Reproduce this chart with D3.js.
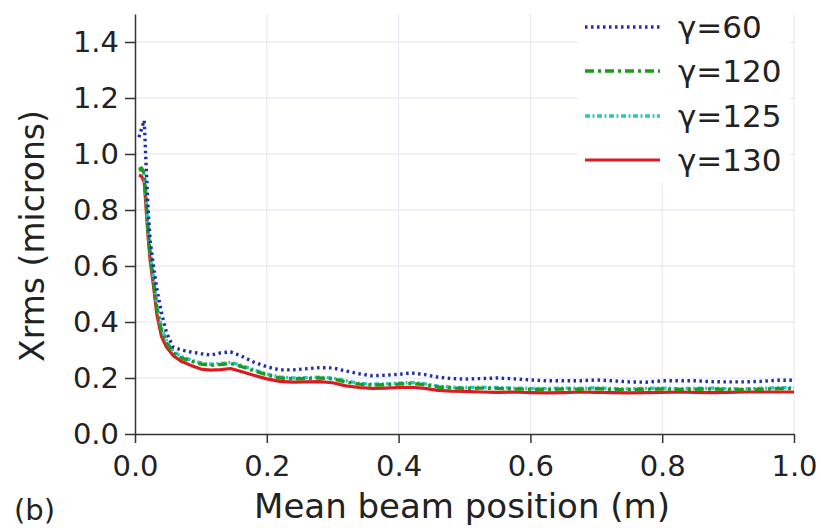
<!DOCTYPE html>
<html>
<head>
<meta charset="utf-8">
<script src="https://cdn.jsdelivr.net/npm/d3@7"></script>
<style>
  body { margin: 0; background: #fff; }
  svg text { font-family: "DejaVu Sans", sans-serif; fill: #222; }
  .grid line { stroke: #e4e4f4; stroke-width: 1; }
  .axis path, .axis line { stroke: #333; stroke-width: 1.5; }
  .axis text { font-size: 29px; fill: #222; font-family: "DejaVu Sans", sans-serif; }
</style>
</head>
<body>
<svg id="chart" width="821" height="528"></svg>
<script>
/* Xrms vs mean beam position, four gamma values */
const xs = [0.006, 0.01, 0.014, 0.017, 0.02, 0.023, 0.028, 0.033, 0.04, 0.048, 0.058, 0.07, 0.085, 0.1, 0.115, 0.13, 0.145, 0.16, 0.18, 0.2,
            0.22, 0.24, 0.26, 0.28, 0.3, 0.32, 0.34, 0.36, 0.38, 0.4, 0.42, 0.44, 0.46, 0.48, 0.5, 0.525, 0.55, 0.575, 0.6, 0.625,
            0.65, 0.675, 0.7, 0.725, 0.75, 0.775, 0.8, 0.825, 0.85, 0.875, 0.9, 0.925, 0.95, 0.975, 1.0];

const g60 = [1.06, 1.09, 1.12, 0.95, 0.8, 0.69, 0.6, 0.52, 0.435, 0.36, 0.31, 0.3, 0.293, 0.287, 0.282, 0.29, 0.293, 0.28, 0.257, 0.24,
             0.229, 0.229, 0.233, 0.237, 0.236, 0.225, 0.215, 0.208, 0.21, 0.213, 0.218, 0.212, 0.203, 0.198, 0.196, 0.198, 0.2, 0.197, 0.193, 0.19,
             0.19, 0.19, 0.193, 0.19, 0.186, 0.185, 0.19, 0.19, 0.19, 0.187, 0.186, 0.186, 0.188, 0.192, 0.192];
const g120 = [0.945, 0.95, 0.93, 0.83, 0.72, 0.64, 0.55, 0.45, 0.37, 0.325, 0.29, 0.272, 0.26, 0.25, 0.245, 0.248, 0.252, 0.242, 0.226, 0.211,
              0.2, 0.197, 0.198, 0.2, 0.197, 0.186, 0.178, 0.175, 0.176, 0.178, 0.181, 0.176, 0.168, 0.164, 0.163, 0.164, 0.163, 0.161, 0.16, 0.159,
              0.161, 0.16, 0.162, 0.159, 0.158, 0.16, 0.161, 0.159, 0.16, 0.161, 0.159, 0.158, 0.16, 0.162, 0.162];
const g125 = [0.94, 0.945, 0.925, 0.84, 0.73, 0.65, 0.56, 0.46, 0.38, 0.33, 0.295, 0.277, 0.264, 0.254, 0.249, 0.252, 0.256, 0.246, 0.23, 0.214,
              0.204, 0.2, 0.201, 0.203, 0.2, 0.19, 0.181, 0.178, 0.179, 0.181, 0.184, 0.179, 0.171, 0.167, 0.166, 0.167, 0.166, 0.164, 0.163, 0.162,
              0.164, 0.163, 0.165, 0.162, 0.161, 0.163, 0.164, 0.162, 0.163, 0.164, 0.162, 0.161, 0.163, 0.165, 0.165];
const g130 = [0.925, 0.92, 0.9, 0.8, 0.7, 0.62, 0.53, 0.43, 0.35, 0.31, 0.28, 0.26, 0.245, 0.232, 0.228, 0.23, 0.234, 0.224, 0.21, 0.197,
              0.188, 0.185, 0.186, 0.187, 0.183, 0.172, 0.166, 0.163, 0.164, 0.166, 0.167, 0.163, 0.156, 0.153, 0.152, 0.15, 0.149, 0.15, 0.148, 0.147,
              0.148, 0.15, 0.149, 0.148, 0.147, 0.148, 0.149, 0.15, 0.149, 0.148, 0.149, 0.15, 0.15, 0.15, 0.15];

const seriesNames = ['\u03b3=60', '\u03b3=120', '\u03b3=125', '\u03b3=130'];
const xTicks = [0, 0.2, 0.4, 0.6, 0.8, 1.0];
const yTicks = [0, 0.2, 0.4, 0.6, 0.8, 1.0, 1.2, 1.4];

const svg = d3.select('#chart');
const x = d3.scaleLinear().domain([0, 1]).range([135, 794]);
const y = d3.scaleLinear().domain([0, 1.5]).range([434, 14]);

// grid
let grid = svg.append('g').classed('grid', true);
grid.selectAll('.h').data(yTicks.slice(1)).enter().append('line')
    .attr('x1', x(0)).attr('x2', x(1)).attr('y1', d => y(d)).attr('y2', d => y(d));
grid.selectAll('.v').data(xTicks.slice(1)).enter().append('line')
    .attr('x1', d => x(d)).attr('x2', d => x(d)).attr('y1', y(1.5)).attr('y2', y(0));

// curves
const styles = [
    { color: '#1f2fa8', dash: '2.5,3.5', width: 3.4 },
    { color: '#1e9a1e', dash: '9,4,3,4', width: 3.4 },
    { color: '#2ec4c4', dash: '5,2.5,2,2.5', width: 3.4 },
    { color: '#dd1a22', dash: null, width: 3.2 }
];
const allSeries = [g60, g120, g125, g130];
let line = d3.line().x((d, i) => x(xs[i])).y(d => y(d));

// draw red first so dotted lines sit on top
[3, 2, 1, 0].forEach(k => {
    svg.append('path').attr('d', line(allSeries[k]))
        .attr('fill', 'none').attr('stroke', styles[k].color)
        .attr('stroke-width', styles[k].width)
        .attr('stroke-dasharray', styles[k].dash)
        .attr('stroke-linejoin', 'round');
});

// axes
svg.append('g').classed('axis', true).attr('transform', 'translate(0,' + y(0) + ')')
    .call(d3.axisBottom(x).tickValues(xTicks).tickFormat(d3.format('.1f')).tickSize(9).tickSizeOuter(0).tickPadding(12));
svg.append('g').classed('axis', true).attr('transform', 'translate(' + x(0) + ',0)')
    .call(d3.axisLeft(y).tickValues(yTicks).tickFormat(d3.format('.1f')).tickSize(10).tickSizeOuter(0).tickPadding(6));
svg.selectAll('.axis text').attr('fill', '#222');

// legend
let legend = svg.append('g');
legend.append('rect').attr('x', 578).attr('y', 6).attr('width', 212).attr('height', 176).attr('fill', '#fff');
const legendY = [27, 71, 116, 160];
seriesNames.forEach((name, k) => {
    legend.append('line').attr('x1', 585).attr('x2', 660).attr('y1', legendY[k]).attr('y2', legendY[k])
        .attr('stroke', styles[k].color).attr('stroke-width', styles[k].width)
        .attr('stroke-dasharray', styles[k].dash);
    legend.append('text').attr('x', 678).attr('y', legendY[k] + 11).style('font-size', '31px').text(name);
});

// titles
svg.append('text').attr('x', 462).attr('y', 518).attr('text-anchor', 'middle')
    .style('font-size', '34px').text('Mean beam position (m)');
svg.append('text').attr('transform', 'translate(44,236) rotate(-90)').attr('text-anchor', 'middle')
    .style('font-size', '33px').text('Xrms (microns)');
svg.append('text').attr('x', 14).attr('y', 520).style('font-size', '29px').text('(b)');
</script>
</body>
</html>
